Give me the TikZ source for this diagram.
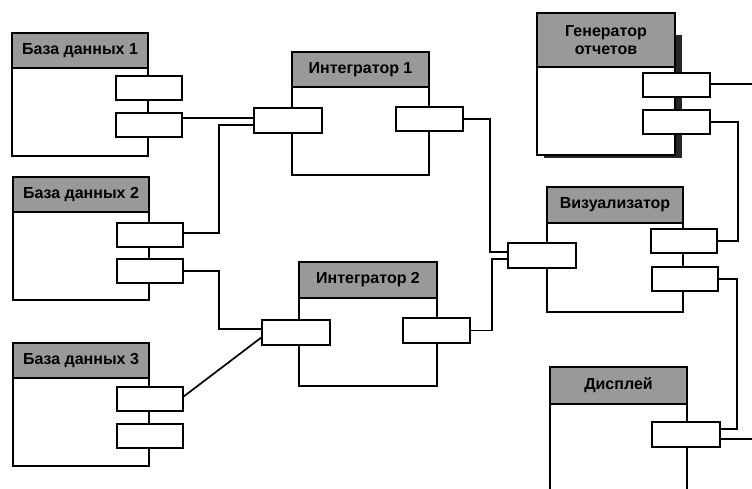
\documentclass[tikz,border=0pt]{standalone}
\usepackage{fontspec}
\setmainfont{Liberation Sans}
\usetikzlibrary{calc}
\begin{document}
\begin{tikzpicture}[x=1pt,y=-1pt,
  comp/.style={draw, line width=2.4pt, fill=white, anchor=north west,
    inner sep=0pt, outer sep=0pt, minimum width=136pt, minimum height=123pt},
  hdr/.style={draw, line width=2.4pt, fill=black!40, anchor=north west,
    inner sep=0pt, outer sep=0pt, minimum width=136pt, minimum height=35pt,
    font=\bfseries\fontsize{16}{18}\selectfont, align=center},
  port/.style={draw, line width=1.9pt, fill=white, anchor=north west,
    inner sep=0pt, outer sep=0pt, minimum width=66pt, minimum height=24pt},
  wire/.style={line width=1.7pt}]

\useasboundingbox (0,0) rectangle (752,488);

% --- databases ---
\node[comp] (db1) at (12,33) {};
\node[hdr] at (db1.north west) {База данных 1};
\node[port] (db1a) at (116,76) {};
\node[port] (db1b) at (116,113) {};

\node[comp] (db2) at (13,177) {};
\node[hdr] at (db2.north west) {База данных 2};
\node[port] (db2a) at (117,223) {};
\node[port] (db2b) at (117,259) {};

\node[comp] (db3) at (13,343) {};
\node[hdr] at (db3.north west) {База данных 3};
\node[port] (db3a) at (117,387) {};
\node[port] (db3b) at (117,424) {};

% --- integrators ---
\node[comp, minimum width=137pt] (i1) at (292,52) {};
\node[hdr, minimum width=137pt] at (i1.north west) {Интегратор 1};
\node[port, minimum width=68pt, minimum height=25pt] (i1l) at (254,108) {};
\node[port, minimum width=67pt] (i1r) at (396,107) {};

\node[comp, minimum width=138pt, minimum height=124pt] (i2) at (299,262) {};
\node[hdr, minimum width=138pt, minimum height=36pt] at (i2.north west) {Интегратор 2};
\node[port, minimum width=68pt, minimum height=25pt] (i2l) at (262,320) {};
\node[port, minimum width=67pt, minimum height=25pt] (i2r) at (403,318) {};

% --- report generator (with drop shadow) ---
\fill[black!85] (544,35) rectangle (682,158);
\node[comp, minimum width=138pt, minimum height=142pt] (gen) at (537,13) {};
\node[hdr, minimum width=138pt, minimum height=54pt, font=\bfseries\fontsize{16}{18}\selectfont]
  at (gen.north west) {Генератор\\отчетов};
\node[port, minimum width=67pt] (gena) at (643,73) {};
\node[port, minimum width=67pt] (genb) at (643,110) {};

% --- visualizer ---
\node[comp, minimum height=125pt] (vis) at (547,187) {};
\node[hdr, minimum height=36pt] at (vis.north west) {Визуализатор};
\node[port, minimum width=68pt, minimum height=25pt] (visl) at (508,243) {};
\node[port] (visr1) at (651,229) {};
\node[port] (visr2) at (652,267) {};

% --- display ---
\node[comp, minimum width=137pt, minimum height=140pt] (disp) at (550,367) {};
\node[hdr, minimum width=137pt, minimum height=37pt] at (disp.north west) {Дисплей};
\node[port, minimum width=68pt, minimum height=25pt] (dispp) at (652,422) {};

% --- connectors ---
\coordinate (edgeA) at (760,84);
\coordinate (edgeB) at (760,439);

\draw[wire] ([yshift=7pt]db1b.east) -- ([yshift=7pt]db1b.east -| i1l.west);
\draw[wire] ([yshift=2pt]db2a.east) -- ++(36,0) |- ([yshift=-4.5pt]i1l.west);
\draw[wire] (db2b.east) -- ++(36,0) |- ([yshift=3.5pt]i2l.west);
\draw[wire] ([yshift=2pt]db3a.east) -- ([yshift=-4.5pt]i2l.west);

\draw[wire] (i1r.east) -- ++(27,0) |- ([yshift=3.5pt]visl.west);
\draw[wire] (i2r.east) -- ++(22,0) |- ([yshift=-3.5pt]visl.west);

\draw[wire] (visr1.east) -- ++(21,0) |- (genb.east);
\draw[wire] (visr2.east) -- ++(19,0) |- ([yshift=5.5pt]dispp.east);

\draw[wire] ([yshift=1pt]gena.east) -- (edgeA);
\draw[wire] ([yshift=-4.5pt]dispp.east) -- (edgeB);
\end{tikzpicture}
\end{document}
